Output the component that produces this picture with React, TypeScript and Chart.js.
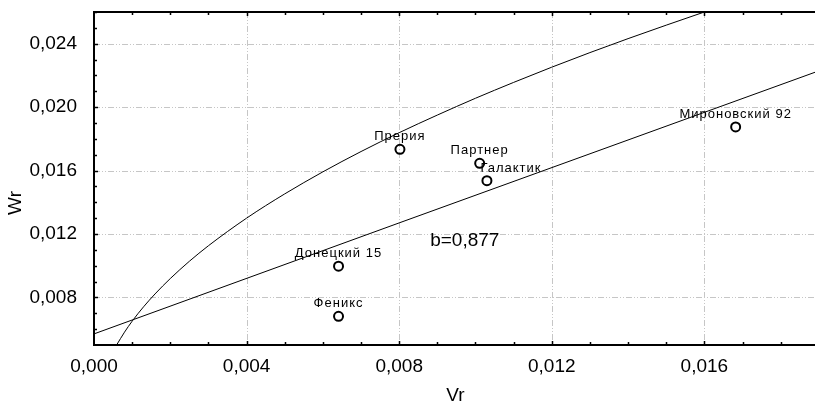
import React, { useEffect, useRef } from 'react';
import { Chart, registerables } from 'chart.js';

Chart.register(...registerables);

const FONT = '"Liberation Sans", Arial, sans-serif';

// Varieties (points)
const varieties = ['Прерия', 'Партнер', 'Галактик', 'Донецкий 15', 'Феникс', 'Мироновский 92'];
const varietyVr = [0.00802, 0.01011, 0.0103, 0.00641, 0.00641, 0.01682];
const varietyWr = [0.01734, 0.01646, 0.01536, 0.00997, 0.00681, 0.01875];

// Limiting parabola
const parabolaVr = [0.00059, 0.0008, 0.001, 0.0013, 0.0016, 0.002, 0.0025, 0.003, 0.004, 0.005, 0.006, 0.007, 0.008, 0.009, 0.01, 0.011, 0.012, 0.013, 0.014, 0.015, 0.016, 0.0165];
const parabolaWr = [0.00499, 0.00581, 0.0065, 0.00741, 0.00822, 0.00919, 0.01028, 0.01126, 0.013, 0.01453, 0.01592, 0.0172, 0.01839, 0.0195, 0.02056, 0.02156, 0.02252, 0.02344, 0.02432, 0.02517, 0.026, 0.0264];

// Regression line
const regressionVr = [0, 0.008, 0.0189];
const regressionWr = [0.0057, 0.0127, 0.0222];

const xTickValues = [0, 0.004, 0.008, 0.012, 0.016];
const yTickValues = [0.008, 0.012, 0.016, 0.02, 0.024];

const annotationText = 'b=0,877';
const annotationVr = 0.00972;
const annotationWr = 0.01158;

const X_MIN = 0;
const X_MAX = 0.0189;
const Y_MIN = 0.005;
const Y_MAX = 0.026;

const labelShift: Record<string, number> = { 'Галактик': 24 };

const fmt = (v: number) => v.toFixed(3).replace('.', ',');

const decor = {
  id: 'decor',
  beforeDatasetsDraw(chart: any) {
    const { ctx, chartArea: a, scales } = chart;
    const x = scales.x;
    const y = scales.y;
    ctx.save();
    ctx.strokeStyle = '#c6c6c6';
    ctx.lineWidth = 1;
    ctx.setLineDash([6, 2, 1, 2, 1, 2]);
    xTickValues.forEach((v) => {
      const px = Math.round(x.getPixelForValue(v)) + 0.5;
      if (px <= a.left + 2) return;
      ctx.beginPath();
      ctx.moveTo(px, a.top);
      ctx.lineTo(px, a.bottom);
      ctx.stroke();
    });
    yTickValues.forEach((v) => {
      const py = Math.round(y.getPixelForValue(v)) + 0.5;
      ctx.beginPath();
      ctx.moveTo(a.left, py);
      ctx.lineTo(a.right, py);
      ctx.stroke();
    });
    ctx.restore();
  },
  afterDatasetsDraw(chart: any) {
    const { ctx, chartArea: a, scales } = chart;
    const x = scales.x;
    const y = scales.y;
    ctx.save();
    // point labels
    ctx.fillStyle = '#000';
    ctx.font = `13px ${FONT}`;
    (ctx as any).letterSpacing = '1px';
    ctx.textAlign = 'center';
    ctx.textBaseline = 'middle';
    varieties.forEach((name, i) => {
      const px = x.getPixelForValue(varietyVr[i]) + (labelShift[name] || 0);
      const py = y.getPixelForValue(varietyWr[i]) - 12.5;
      ctx.fillText(name, px, py);
    });
    (ctx as any).letterSpacing = '0px';
    ctx.font = `19px ${FONT}`;
    ctx.fillText(annotationText, x.getPixelForValue(annotationVr), y.getPixelForValue(annotationWr));

    // axis titles
    ctx.fillText('Vr', (a.left + a.right) / 2 + 1, 396);
    ctx.save();
    ctx.translate(16, 203);
    ctx.rotate(-Math.PI / 2);
    ctx.fillText('Wr', 0, 0);
    ctx.restore();

    // axes lines
    ctx.strokeStyle = '#000';
    ctx.lineWidth = 2;
    ctx.setLineDash([]);
    ctx.beginPath();
    ctx.moveTo(a.left, a.top);
    ctx.lineTo(a.right, a.top);
    ctx.moveTo(a.left, a.top - 1);
    ctx.lineTo(a.left, a.bottom + 1);
    ctx.moveTo(a.left - 1, a.bottom);
    ctx.lineTo(a.right, a.bottom);
    ctx.stroke();

    // inward ticks
    ctx.lineWidth = 1.5;
    ctx.beginPath();
    for (let k = 1; k * 0.001 <= X_MAX + 1e-9; k++) {
      const v = k * 0.001;
      const px = Math.round(x.getPixelForValue(v)) + 0.5;
      const major = k % 4 === 0;
      const len = major ? 4 : 3;
      ctx.moveTo(px, a.bottom);
      ctx.lineTo(px, a.bottom - len);
      ctx.moveTo(px, a.top);
      ctx.lineTo(px, a.top + len);
    }
    for (let k = 6; k * 0.001 <= Y_MAX + 1e-9; k++) {
      const v = k * 0.001;
      const py = Math.round(y.getPixelForValue(v)) + 0.5;
      const major = k % 4 === 0;
      const len = major ? 4 : 3;
      ctx.moveTo(a.left, py);
      ctx.lineTo(a.left + len, py);
    }
    ctx.stroke();
    ctx.restore();
  },
};

export default function App() {
  const ref = useRef<HTMLCanvasElement | null>(null);
  useEffect(() => {
    if (!ref.current) return;
    const chart = new Chart(ref.current, {
      type: 'scatter',
      data: {
        datasets: [
          {
            label: 'points',
            data: varietyVr.map((v, i) => ({ x: v, y: varietyWr[i] })),
            pointStyle: 'circle',
            pointRadius: 4.5,
            pointBorderWidth: 2,
            borderColor: '#000',
            backgroundColor: 'rgba(0,0,0,0)',
            showLine: false,
            clip: 6,
          },
          {
            label: 'parabola',
            data: parabolaVr.map((v, i) => ({ x: v, y: parabolaWr[i] })),
            showLine: true,
            pointRadius: 0,
            borderColor: '#000',
            borderWidth: 1,
            cubicInterpolationMode: 'monotone',
          },
          {
            label: 'regression',
            data: regressionVr.map((v, i) => ({ x: v, y: regressionWr[i] })),
            showLine: true,
            pointRadius: 0,
            borderColor: '#000',
            borderWidth: 1,
          },
        ],
      } as any,
      options: {
        animation: false,
        responsive: false,
        devicePixelRatio: 1,
        layout: { autoPadding: false, padding: { top: 12, right: 0, left: 0, bottom: 0 } },
        plugins: { legend: { display: false }, tooltip: { enabled: false } },
        scales: {
          x: {
            type: 'linear',
            min: X_MIN,
            max: X_MAX,
            afterBuildTicks: (s: any) => {
              s.ticks = xTickValues.map((value) => ({ value }));
            },
            afterFit: (s: any) => {
              s.height = 62;
              s.paddingLeft = 0;
              s.paddingRight = 0;
              s.paddingTop = 0;
              s.paddingBottom = 0;
            },
            ticks: {
              callback: (v: any) => fmt(Number(v)),
              font: { size: 19, family: FONT },
              color: '#000',
              padding: 2,
              maxRotation: 0,
              autoSkip: false,
            },
            grid: { display: false },
            border: { display: false },
          },
          y: {
            type: 'linear',
            min: Y_MIN,
            max: Y_MAX,
            afterBuildTicks: (s: any) => {
              s.ticks = yTickValues.map((value) => ({ value }));
            },
            afterFit: (s: any) => {
              s.width = 94;
              s.paddingLeft = 0;
              s.paddingRight = 0;
              s.paddingTop = 0;
              s.paddingBottom = 0;
            },
            ticks: {
              callback: (v: any) => fmt(Number(v)),
              font: { size: 19, family: FONT },
              color: '#000',
              padding: 9,
              autoSkip: false,
            },
            grid: { display: false },
            border: { display: false },
          },
        },
      } as any,
      plugins: [decor],
    });
    return () => chart.destroy();
  }, []);
  return (
    <div style={{ position: 'fixed', left: 0, top: 0, width: 815, height: 407, background: '#fff' }}>
      <canvas ref={ref} width={815} height={407} style={{ display: 'block' }} />
    </div>
  );
}
